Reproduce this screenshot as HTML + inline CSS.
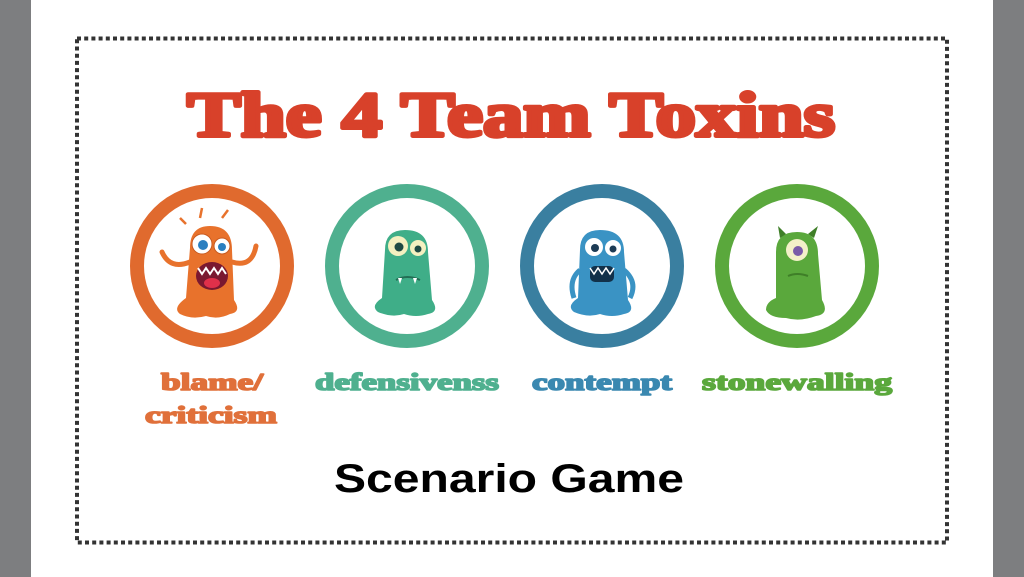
<!DOCTYPE html>
<html><head><meta charset="utf-8"><style>
html,body{margin:0;padding:0;background:#fff}
svg{display:block}
</style></head><body>
<svg width="1024" height="577" viewBox="0 0 1024 577" xmlns="http://www.w3.org/2000/svg">
  <rect x="0" y="0" width="1024" height="577" fill="#ffffff"/>
  <rect x="0" y="0" width="31" height="577" fill="#7d7e80"/>
  <rect x="993" y="0" width="31" height="577" fill="#7d7e80"/>
  <rect x="77" y="38.5" width="870" height="504" fill="none" stroke="#333" stroke-width="4" stroke-dasharray="4 3.2"/>

  <text x="511" y="136" text-anchor="middle" font-family="Liberation Serif, serif" font-weight="bold" font-size="64" fill="#d8412a" stroke="#d8412a" stroke-width="4" stroke-linejoin="round" textLength="648" lengthAdjust="spacingAndGlyphs">The 4 Team Toxins</text>

  <g>
    <circle cx="212" cy="266" r="75" fill="#fff" stroke="#e06a2e" stroke-width="14"/>
    <g>
      <path d="M190 248 Q190 226 210 226 Q232 226 232 250 L234 300 Q242 312 230 314 Q218 320 206 316 Q192 320 180 314 Q172 308 186 298 Z" fill="#e8722c"/>
      <path d="M190 262 Q170 270 162 252 M232 262 Q252 268 256 246" stroke="#e8722c" stroke-width="5" fill="none" stroke-linecap="round"/>
      <circle cx="202" cy="244" r="10" fill="#fff" stroke="#c85a20" stroke-width="1"/>
      <circle cx="222" cy="246" r="8" fill="#fff" stroke="#c85a20" stroke-width="1"/>
      <circle cx="203" cy="245" r="5" fill="#2a7fc0"/>
      <circle cx="222" cy="247" r="4" fill="#2a7fc0"/>
      <ellipse cx="212" cy="276" rx="16" ry="14" fill="#7a1830"/>
      <ellipse cx="212" cy="283" rx="8" ry="5" fill="#e0304a"/>
      <path d="M198 268 L202 274 L206 268 L210 274 L214 268 L218 274 L222 268 L226 274" stroke="#fff" stroke-width="2" fill="none"/>
      <path d="M200 218 L202 208 M222 218 L228 210 M186 224 L180 218" stroke="#e8722c" stroke-width="2.5"/>
    </g>
  </g>
  <g>
    <circle cx="407" cy="266" r="75" fill="#fff" stroke="#4fb08f" stroke-width="14"/>
    <g>
      <path d="M385 250 Q385 230 405 230 Q428 230 428 252 L432 300 Q440 312 428 314 Q416 318 404 314 Q392 318 378 312 Q370 306 382 298 Z" fill="#3fae88"/>
      <circle cx="398" cy="246" r="10" fill="#f4f0c0"/>
      <circle cx="418" cy="248" r="8" fill="#f4f0c0"/>
      <circle cx="399" cy="247" r="4.5" fill="#1f4a44"/>
      <circle cx="418" cy="249" r="3.5" fill="#1f4a44"/>
      <path d="M396 280 Q407 274 420 280" stroke="#236e55" stroke-width="2" fill="none"/>
      <path d="M398 278 L400 284 L402 278 M413 278 L415 284 L417 278" fill="#fff"/>
    </g>
  </g>
  <g>
    <circle cx="602" cy="266" r="75" fill="#fff" stroke="#3a7fa0" stroke-width="14"/>
    <g>
      <path d="M580 250 Q580 230 600 230 Q624 230 624 252 L628 300 Q636 312 624 314 Q612 318 600 314 Q588 318 574 312 Q566 306 578 298 Z" fill="#3a93c4"/>
      <path d="M580 270 Q568 280 574 298 M624 270 Q638 282 630 298" stroke="#3a93c4" stroke-width="5" fill="none"/>
      <circle cx="594" cy="247" r="9" fill="#fff"/>
      <circle cx="613" cy="248" r="8" fill="#fff"/>
      <circle cx="595" cy="248" r="4" fill="#1d3b55"/>
      <circle cx="613" cy="249" r="3.5" fill="#1d3b55"/>
      <rect x="590" y="266" width="24" height="16" rx="5" fill="#12314a"/>
      <path d="M590 268 L594 274 L598 268 L602 274 L606 268 L610 274 L614 268" stroke="#fff" stroke-width="1.5" fill="none"/>
    </g>
  </g>
  <g>
    <circle cx="797" cy="266" r="75" fill="#fff" stroke="#5aa83c" stroke-width="14"/>
    <g>
      <path d="M776 252 Q776 232 797 232 Q818 232 818 254 L822 300 Q830 314 816 316 Q800 322 786 318 Q770 318 766 310 Q766 302 776 298 Z" fill="#5aa83c"/>
      <path d="M780 238 L778 226 L786 234 Z M814 238 L818 226 L808 234 Z" fill="#3f7f28"/>
      <circle cx="797" cy="250" r="11" fill="#f3f0c8"/>
      <circle cx="798" cy="251" r="5" fill="#7a5ba8"/>
      <path d="M788 276 Q797 272 808 276" stroke="#3f7f28" stroke-width="2" fill="none"/>
    </g>
  </g>

  <g font-family="Liberation Serif, serif" font-weight="bold" font-size="24" text-anchor="middle" stroke-width="1.6" stroke-linejoin="round">
    <text x="212" y="390" fill="#e0703a" stroke="#e0703a" textLength="102" lengthAdjust="spacingAndGlyphs">blame/</text>
    <text x="211" y="423" fill="#e0703a" stroke="#e0703a" textLength="132" lengthAdjust="spacingAndGlyphs">criticism</text>
    <text x="407" y="390" fill="#4fb08f" stroke="#4fb08f" textLength="184" lengthAdjust="spacingAndGlyphs">defensivenss</text>
    <text x="602" y="390" fill="#3a88b0" stroke="#3a88b0" textLength="140" lengthAdjust="spacingAndGlyphs">contempt</text>
    <text x="797" y="390" fill="#5aa83c" stroke="#5aa83c" textLength="190" lengthAdjust="spacingAndGlyphs">stonewalling</text>
  </g>

  <text x="509" y="492" text-anchor="middle" font-family="Liberation Sans, sans-serif" font-weight="bold" font-size="40" fill="#000" textLength="350" lengthAdjust="spacingAndGlyphs">Scenario Game</text>
</svg>
</body></html>
